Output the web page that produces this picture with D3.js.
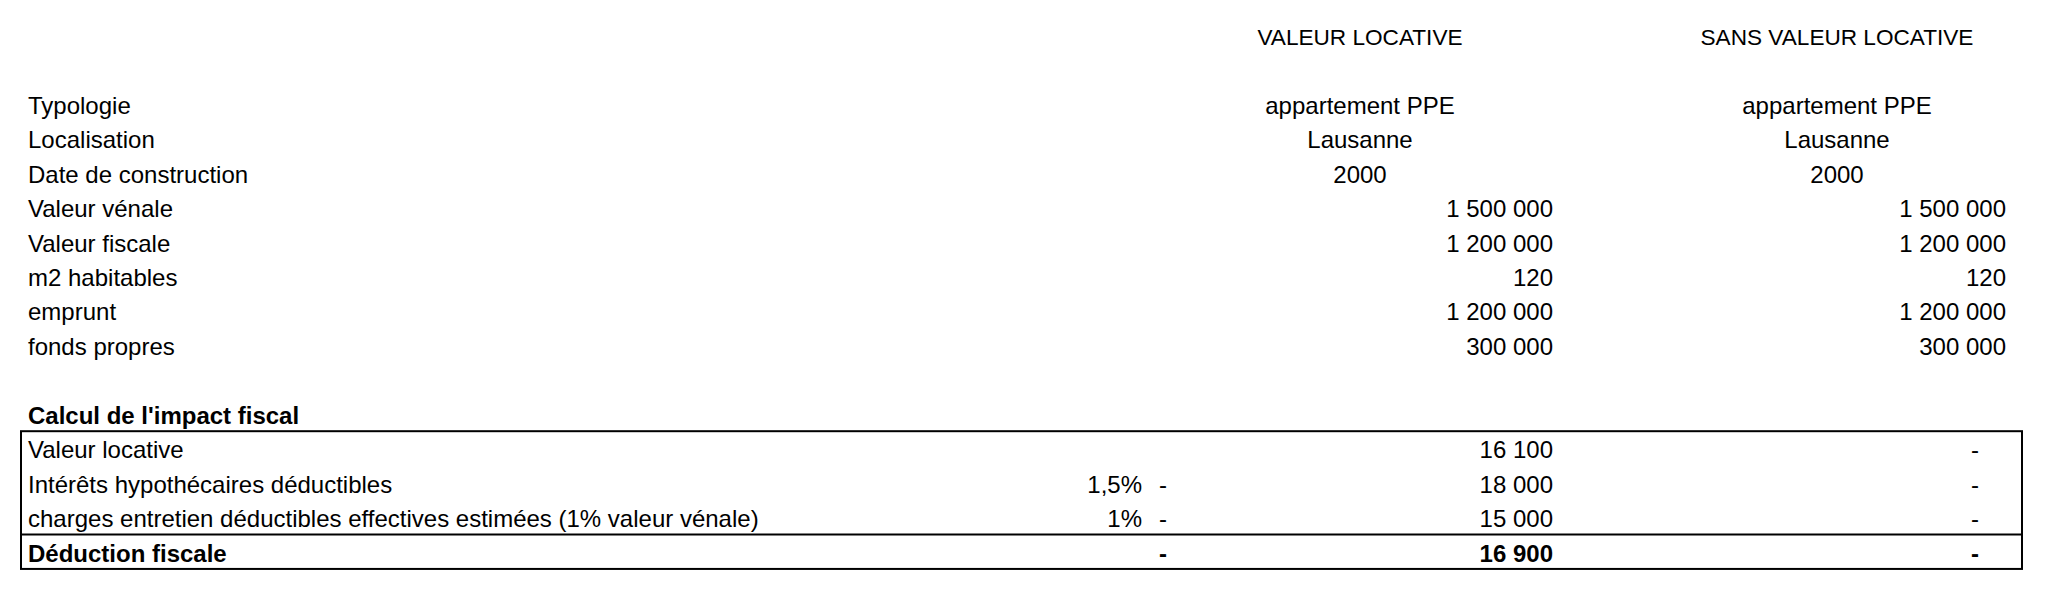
<!DOCTYPE html>
<html>
<head>
<meta charset="utf-8">
<script src="https://cdn.jsdelivr.net/npm/d3@7"></script>
<style>
  html, body { margin: 0; padding: 0; background: #fff; }
  svg { display: block; }
  text { font-family: "Liberation Sans", Arial, sans-serif; fill: #000; }
</style>
</head>
<body>
<svg id="chart" width="2048" height="595"></svg>
<script>
// ---- Data ----
const columnHeaders = ["VALEUR LOCATIVE", "SANS VALEUR LOCATIVE"];

const propertyLabels = ["Typologie", "Localisation", "Date de construction", "Valeur vénale",
  "Valeur fiscale", "m2 habitables", "emprunt", "fonds propres"];
const propertyWith    = ["appartement PPE", "Lausanne", "2000", 1500000, 1200000, 120, 1200000, 300000];
const propertyWithout = ["appartement PPE", "Lausanne", "2000", 1500000, 1200000, 120, 1200000, 300000];

const sectionTitle = "Calcul de l'impact fiscal";
const impactLabels = ["Valeur locative", "Intérêts hypothécaires déductibles",
  "charges entretien déductibles effectives estimées (1% valeur vénale)", "Déduction fiscale"];
const impactRates   = [null, 0.015, 0.01, null];
const impactWith    = [16100, -18000, -15000, -16900];
const impactWithout = [0, 0, 0, 0];
const impactBold    = [false, false, false, true];

// ---- Layout ----
const svg = d3.select("#chart");
const fontSize = 24;
const headerSize = 22.6;

// row index -> baseline
const rowY = d3.scaleLinear().domain([0, 15]).range([45, 561.5]);
// column anchors
const colX = d3.scaleOrdinal()
  .domain(["label", "rate", "c1left", "c1center", "c1right", "c2center", "c2right", "c2zero"])
  .range([28, 1142, 1163, 1360, 1553, 1837, 2006, 1975]);

const loc = d3.formatLocale({ decimal: ",", thousands: "\u00a0", grouping: [3], currency: ["", ""] });
const fmtNum = loc.format(",.0f");
const fmtPct = loc.format(".2~%");

function txt(x, y, s, anchor, bold, size) {
  svg.append("text")
    .attr("x", x).attr("y", y)
    .attr("text-anchor", anchor || "start")
    .attr("font-size", size || fontSize)
    .attr("font-weight", bold ? "bold" : "normal")
    .text(s);
}

// accounting-style cell: minus at left, value right, zero as dash
function accounting(v, leftKey, rightKey, zeroKey, y, bold) {
  if (v === 0) {
    txt(colX(zeroKey), y, "-", "middle", bold);
  } else {
    if (v < 0) txt(colX(leftKey), y, "-", "middle", bold);
    txt(colX(rightKey), y, fmtNum(Math.abs(v)), "end", bold);
  }
}

// headers
txt(colX("c1center"), rowY(0), columnHeaders[0], "middle", false, headerSize);
txt(colX("c2center"), rowY(0), columnHeaders[1], "middle", false, headerSize);

// property rows
propertyLabels.forEach((lab, i) => {
  const y = rowY(i + 2);
  txt(colX("label"), y, lab, "start");
  const a = propertyWith[i], b = propertyWithout[i];
  if (typeof a === "number") {
    txt(colX("c1right"), y, fmtNum(a), "end");
  } else {
    txt(colX("c1center"), y, a, "middle");
  }
  if (typeof b === "number") {
    txt(colX("c2right"), y, fmtNum(b), "end");
  } else {
    txt(colX("c2center"), y, b, "middle");
  }
});

// section title
txt(colX("label"), rowY(11), sectionTitle, "start", true);

// impact rows
impactLabels.forEach((lab, i) => {
  const y = rowY(12 + i);
  const bold = impactBold[i];
  txt(colX("label"), y, lab, "start", bold);
  if (impactRates[i] !== null) txt(colX("rate"), y, fmtPct(impactRates[i]), "end", bold);
  accounting(impactWith[i], "c1left", "c1right", "c1left", y, bold);
  accounting(impactWithout[i], "c2left", "c2right", "c2zero", y, bold);
});

// boxes
const rowTop = i => rowY(i) - 27;
const boxLeft = 21, boxRight = 2022;
svg.append("rect")
  .attr("x", boxLeft).attr("y", rowTop(12))
  .attr("width", boxRight - boxLeft).attr("height", rowTop(16) - rowTop(12))
  .attr("fill", "none").attr("stroke", "#000").attr("stroke-width", 2);
svg.append("line")
  .attr("x1", boxLeft).attr("x2", boxRight)
  .attr("y1", rowTop(15)).attr("y2", rowTop(15))
  .attr("stroke", "#000").attr("stroke-width", 2);
</script>
</body>
</html>
